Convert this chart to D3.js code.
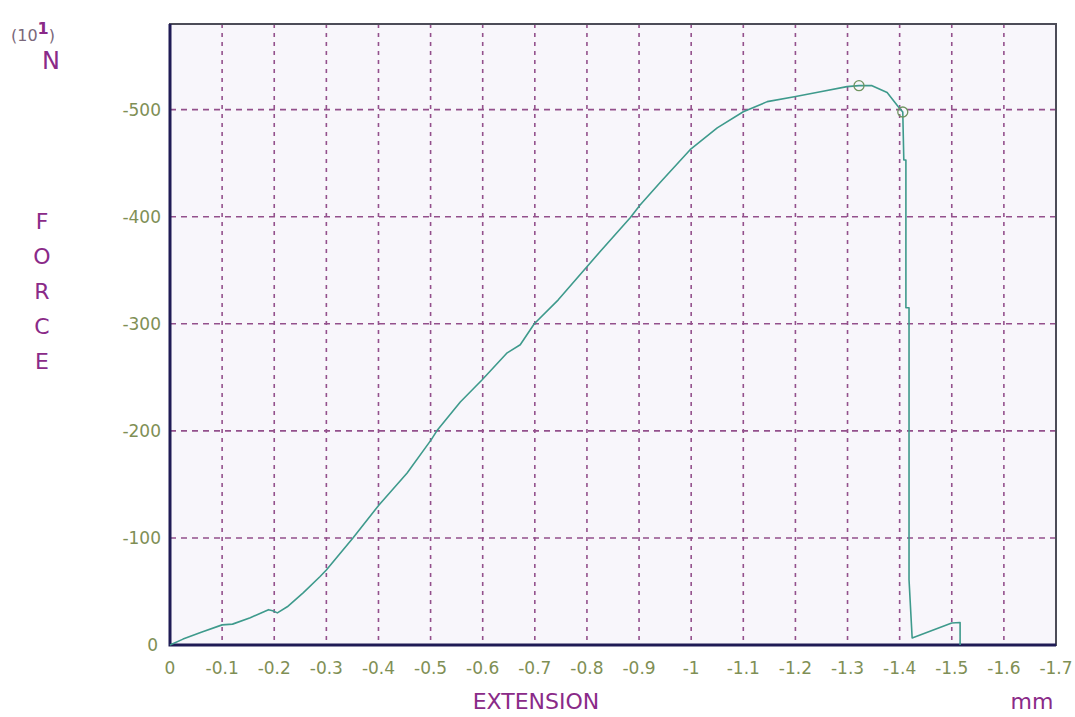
<!DOCTYPE html>
<html>
<head>
<meta charset="UTF-8">
<title>Force - Extension</title>
<script src="https://d3js.org/d3.v7.min.js"></script>
<style>
  body { margin: 0; background: #ffffff; }
  svg { display: block; }
</style>
</head>
<body>
<div id="chart"></div>
<script>
  // extension (mm) and force (10^1 N)
  var extension = [0, -0.025, -0.06, -0.1, -0.12, -0.154, -0.189, -0.197, -0.206, -0.225, -0.256, -0.288,
    -0.30, -0.351, -0.401, -0.455, -0.501, -0.512, -0.557, -0.599, -0.647, -0.672, -0.699, -0.745,
    -0.825, -0.883, -0.902, -0.940, -0.998, -1.050, -1.100, -1.146, -1.198, -1.248, -1.299, -1.322,
    -1.347, -1.376, -1.397, -1.406, -1.408, -1.412, -1.412, -1.418, -1.418, -1.424, -1.500, -1.516, -1.516];
  var force = [0, -5.5, -12, -18.8, -19.5, -25.4, -33, -32, -30, -35.7, -48.9, -64,
    -70, -100, -130.8, -160.7, -191.6, -200, -227, -247.7, -272.9, -280.4, -300, -322.4,
    -367.3, -399, -411, -431.8, -462.6, -483, -498, -507.5, -512, -516.8, -521.5, -522.4,
    -522.4, -516, -503, -497.8, -453, -453, -315, -315, -61, -6.5, -20.5, -21, 0];

  // the two marked points (peak and break)
  var markX = [-1.322, -1.406];
  var markY = [-522.4, -497.8];

  var xTicks = [0, -0.1, -0.2, -0.3, -0.4, -0.5, -0.6, -0.7, -0.8, -0.9, -1, -1.1, -1.2, -1.3, -1.4, -1.5, -1.6, -1.7];
  var xTickLabels = ['0', '-0.1', '-0.2', '-0.3', '-0.4', '-0.5', '-0.6', '-0.7', '-0.8', '-0.9', '-1',
    '-1.1', '-1.2', '-1.3', '-1.4', '-1.5', '-1.6', '-1.7'];
  var yTicks = [0, -100, -200, -300, -400, -500];
  var yTickLabels = ['0', '-100', '-200', '-300', '-400', '-500'];

  (function(d3) {

    var width = 1075, height = 717;
    var pLeft = 170, pRight = 1056, pTop = 24, pBottom = 645;

    var x = d3.scaleLinear().domain([0, -1.7]).range([pLeft, pRight]);
    var y = d3.scaleLinear().domain([0, -580]).range([pBottom, pTop]);

    var svg = d3.select('#chart').append('svg')
      .attr('width', width)
      .attr('height', height);

    // plot background
    svg.append('rect')
      .attr('x', pLeft).attr('y', pTop)
      .attr('width', pRight - pLeft).attr('height', pBottom - pTop)
      .attr('fill', '#f8f6fb');

    // grid
    svg.append('g').selectAll('line')
      .data(xTicks.filter(function(d) { return d !== 0 && d !== -1.7; }))
      .enter().append('line')
      .attr('x1', function(d) { return x(d); })
      .attr('x2', function(d) { return x(d); })
      .attr('y1', pTop).attr('y2', pBottom)
      .attr('stroke', '#93508c')
      .attr('stroke-width', 1.6)
      .attr('stroke-dasharray', '4,5');

    svg.append('g').selectAll('line')
      .data(yTicks.filter(function(d) { return d !== 0; }))
      .enter().append('line')
      .attr('x1', pLeft).attr('x2', pRight)
      .attr('y1', function(d) { return y(d); })
      .attr('y2', function(d) { return y(d); })
      .attr('stroke', '#93508c')
      .attr('stroke-width', 1.6)
      .attr('stroke-dasharray', '6,5');

    // frame
    svg.append('rect')
      .attr('x', pLeft).attr('y', pTop)
      .attr('width', pRight - pLeft).attr('height', pBottom - pTop)
      .attr('fill', 'none')
      .attr('stroke', '#4c4c58')
      .attr('stroke-width', 2);
    svg.append('path')
      .attr('d', 'M' + pLeft + ',' + pTop + 'V' + pBottom + 'H' + pRight)
      .attr('fill', 'none')
      .attr('stroke', '#1f1b55')
      .attr('stroke-width', 3);

    // curve
    var pts = extension.map(function(d, i) { return [d, force[i]]; });
    var line = d3.line()
      .x(function(d) { return x(d[0]); })
      .y(function(d) { return y(d[1]); });

    svg.append('path')
      .datum(pts)
      .attr('d', line)
      .attr('fill', 'none')
      .attr('stroke', '#3e9a8c')
      .attr('stroke-width', 1.6)
      .attr('stroke-linejoin', 'round');

    svg.append('g').selectAll('circle')
      .data(markX)
      .enter().append('circle')
      .attr('cx', function(d) { return x(d); })
      .attr('cy', function(d, i) { return y(markY[i]); })
      .attr('r', 5)
      .attr('fill', 'none')
      .attr('stroke', '#6f9460')
      .attr('stroke-width', 1.3);

    // tick labels
    var tickFont = '"DejaVu Sans", Verdana, sans-serif';
    svg.append('g').selectAll('text')
      .data(xTicks)
      .enter().append('text')
      .attr('x', function(d) { return x(d); })
      .attr('y', 674)
      .attr('text-anchor', 'middle')
      .attr('font-family', tickFont)
      .attr('font-size', 17)
      .attr('fill', '#7f8f55')
      .text(function(d, i) { return xTickLabels[i]; });

    svg.append('g').selectAll('text')
      .data(yTicks)
      .enter().append('text')
      .attr('x', function(d) { return d === 0 ? 158 : 161; })
      .attr('y', function(d) { return y(d); })
      .attr('dy', '0.36em')
      .attr('text-anchor', 'end')
      .attr('font-family', tickFont)
      .attr('font-size', 17)
      .attr('fill', '#7f8f55')
      .text(function(d, i) { return yTickLabels[i]; });

    // axis titles
    var titleFont = '"DejaVu Sans", Verdana, sans-serif';
    svg.append('text')
      .attr('x', 536).attr('y', 709)
      .attr('text-anchor', 'middle')
      .attr('font-family', titleFont)
      .attr('font-size', 22)
      .attr('fill', '#8a2a88')
      .text('EXTENSION');

    svg.append('text')
      .attr('x', 1032).attr('y', 709)
      .attr('text-anchor', 'middle')
      .attr('font-family', titleFont)
      .attr('font-size', 22)
      .attr('fill', '#8a2a88')
      .text('mm');

    svg.append('g').selectAll('text')
      .data(['F', 'O', 'R', 'C', 'E'])
      .enter().append('text')
      .attr('x', 42)
      .attr('y', function(d, i) { return 229 + i * 35; })
      .attr('text-anchor', 'middle')
      .attr('font-family', titleFont)
      .attr('font-size', 22)
      .attr('fill', '#8a2a88')
      .text(function(d) { return d; });

    svg.append('text')
      .attr('x', 51).attr('y', 69)
      .attr('text-anchor', 'middle')
      .attr('font-family', titleFont)
      .attr('font-size', 24)
      .attr('fill', '#8a2a88')
      .text('N');

    var unit = svg.append('text')
      .attr('x', 11).attr('y', 41)
      .attr('font-family', tickFont)
      .attr('font-size', 16)
      .attr('fill', '#7a687a');
    unit.append('tspan').text('(10');
    unit.append('tspan')
      .attr('dy', -7)
      .attr('font-weight', 'bold')
      .attr('fill', '#8a2a88')
      .text('1');
    unit.append('tspan').attr('dy', 7).text(')');

  })(window.d3);
</script>
</body>
</html>
